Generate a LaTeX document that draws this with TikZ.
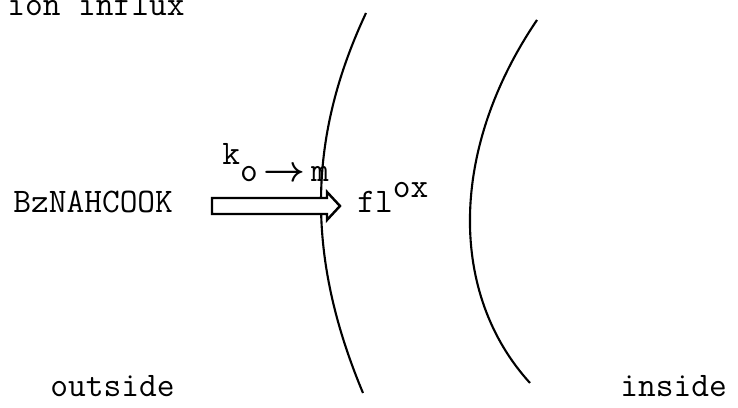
\documentclass[tikz,border=0pt]{standalone}
\usepackage{fontspec}
\usepackage{amsmath}
\usetikzlibrary{positioning,calc}
\tikzset{
  typed/.style={font=\ttfamily\fontsize{19.6}{22}\selectfont, inner sep=0pt},
  wall/.style={line width=1.2pt},
  flux/.style={draw, line width=1.4pt, fill=white, line join=miter},
}
\begin{document}
\begin{tikzpicture}[x=0.02cm, y=-0.02cm]
\useasboundingbox (0,0) rectangle (738,408);
% membranes
\draw[wall] (366,13) .. controls (306.5,140) and (306.5,258) .. (363,393);
\draw[wall] (537,20) .. controls (448.8,150) and (448.8,294) .. (530,383);
% labels
\node[typed, anchor=base east] (title) at (185,16) {ion influx};
\node[typed, anchor=base west] (bz) at (13,213) {BzNAHCOOK};
\node[typed, anchor=base west] (fl) at (357,213) {fl\raisebox{9pt}{ox}};
\node[typed, anchor=base west] (rate) at (222,165) {k\raisebox{-9.5pt}{o\,$\boldsymbol{\rightarrow}$\,m}};
\node[typed, anchor=base west] (out) at (50,397) {outside};
\node[typed, anchor=base west] (in) at (620,397) {inside};
% flux arrow
\coordinate (tail) at (212,206);
\coordinate (tip) at (340,206);
\draw[flux] ($(tail)+(0,-8)$) -- ($(tip)+(-13,-8)$) -- ($(tip)+(-13,-14)$) -- (tip)
  -- ($(tip)+(-13,14)$) -- ($(tip)+(-13,8)$) -- ($(tail)+(0,8)$) -- cycle;
\end{tikzpicture}
\end{document}
